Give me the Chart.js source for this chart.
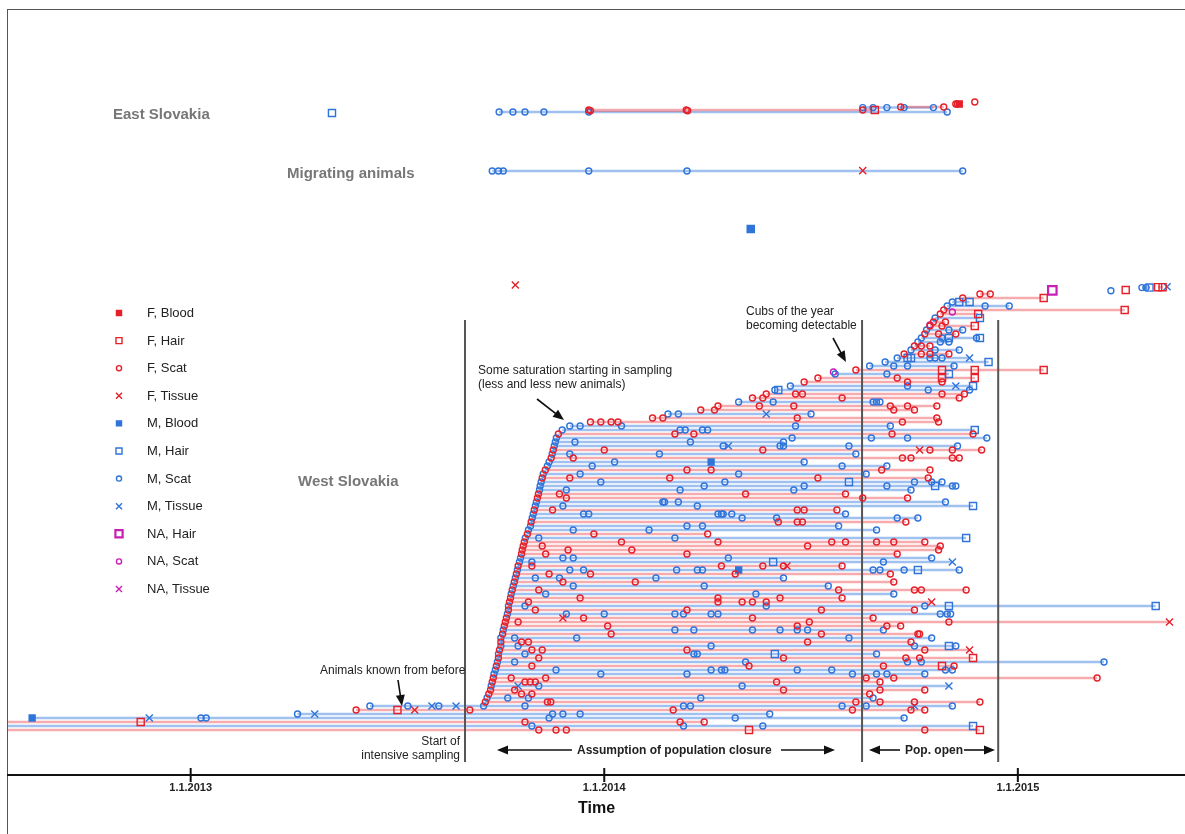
<!DOCTYPE html>
<html lang="en">
<head>
<meta charset="UTF-8">
<title>Sampling timeline of individual animals</title>
<style>
  body { margin: 0; background: #fff; font-family: Arial, "Liberation Sans", sans-serif; overflow: hidden; }
  #wrap { position: relative; width: 1185px; height: 834px; }
  #frame { position: absolute; left: 7px; top: 9px; width: 1200px; height: 900px; border-left: 1px solid #555; border-top: 1px solid #555; }
  canvas { position: absolute; left: 0; top: 0; }
  .txt { position: absolute; white-space: nowrap; font-size: 12px; line-height: 14px; color: #222; }
  .bold { font-weight: bold; }
  .group { position: absolute; white-space: nowrap; font-size: 15px; font-weight: bold; color: #777; line-height: 18px; }
  .leg { position: absolute; left: 147px; white-space: nowrap; font-size: 13px; line-height: 16px; color: #222; }
</style>
</head>
<body>
<div id="wrap">
  <div id="frame"></div>
  <canvas id="timeline" width="1185" height="834"></canvas>

  <div class="group" style="left:113px; top:105px;">East Slovakia</div>
  <div class="group" style="left:287px; top:164px;">Migrating animals</div>
  <div class="group" style="left:298px; top:472px;">West Slovakia</div>

  <div class="txt" style="left:478px; top:363px;">Some saturation starting in sampling<br>(less and less new animals)</div>
  <div class="txt" style="left:746px; top:304px;">Cubs of the year<br>becoming detectable</div>
  <div class="txt" style="left:320px; top:663px;">Animals known from before</div>
  <div class="txt" style="right:725px; top:734px; text-align:right;">Start of<br>intensive sampling</div>
  <div class="txt bold" style="left:577px; top:743px;">Assumption of population closure</div>
  <div class="txt bold" style="left:905px; top:743px;">Pop. open</div>
  <div id="legend"></div>
</div>

<script src="https://cdn.jsdelivr.net/npm/chart.js"></script>
<script>
// time axis: months since 1.1.2013
const tickValues = [0, 12, 24];
const tickLabels = ['1.1.2013', '1.1.2014', '1.1.2015'];
const phaseLines = [7.96, 19.48, 23.43];   // start of intensive sampling, closure end, open end
const phaseSpan = [-8, 102.5];

// one string per animal: sex, then detection months; suffix b=blood, h=hair, x=tissue, none=scat
// West Slovakia, row index = position from the bottom
const westRows = [
  'F -6 10.1 10.6 10.9 16.2h 21.3 22.9h',
  'M -6 9.9 14.3 16.6 22.7h',
  'F -6 -1.45h 9.7 14.2 14.9',
  'M -4.6b -1.2x 0.3 0.45 10.4 15.8 20.7',
  'M 3.1 3.6x 10.5 10.8 11.3 16.8',
  'F 4.8 6.0h 6.5x 8.1 14.0 19.2 20.9 21.3',
  'M 5.2 6.3 7.0x 7.2 7.7x 8.5 9.7 14.3 14.5 18.9 19.6 21.0x 22.1',
  'F 8.55 10.35 10.45 19.3 20.0 21.0 22.9',
  'M 8.6 9.2 9.8 14.8 19.8',
  'F 8.65 9.6 9.9 19.7',
  'F 8.7 9.4 17.2 20.0 21.3',
  'M 8.72 9.5x 10.1 16.0 22.0x',
  'F 8.75 9.7 9.85 10.0 17.0 20.0',
  'F 8.78 9.3 10.3 19.6 20.4 26.3',
  'M 8.8 11.9 14.4 19.2 19.9 20.2 21.3',
  'M 8.84 10.6 15.1 15.4 15.5 17.6 18.6 21.9 22.1',
  'F 8.87 9.9 16.2 20.1 21.8h 22.15',
  'M 8.9 9.4 16.1 20.8 21.2 26.5',
  'F 8.93 10.1 17.2 20.75 21.15 22.7h',
  'M 8.93 9.7 14.6 14.7 16.95h 19.9',
  'F 8.96 9.9 10.2 14.4 21.3 22.6x',
  'M 9.0 9.5 15.1 21.0 22.0h 22.2',
  'F 9.0 9.6 9.8 17.9 20.9',
  'M 9.0 9.4 11.2 19.1 21.5',
  'F 9.05 12.2 18.3 21.1 21.15',
  'M 9.07 14.05 14.6 16.3 17.1 17.6 17.9 20.1',
  'F 9.1 12.1 17.6 20.2 20.6',
  'F 9.13 9.5 17.95 22.0 28.4x',
  'F 9.16 10.8x 11.4 16.3 19.8',
  'M 9.19 10.9 12.0 14.05 14.3 15.1 15.3 21.75 21.95 22.05',
  'F 9.22 10.0 14.4 18.3 21.0',
  'M 9.22 9.7 16.7 21.3 22.0h 28.0h',
  'F 9.25 9.8 15.3 16.0 16.3 16.7 21.5x',
  'F 9.28 11.3 15.3 17.1 18.9',
  'M 9.3 10.3 16.4 20.4',
  'F 9.33 10.1 18.8 21.0 21.2 22.5',
  'M 9.36 11.1 14.9 18.5',
  'F 9.39 10.8 12.9 20.4',
  'M 9.42 10.0 10.7 13.5 17.2',
  'F 9.45 10.4 11.6 15.8 20.3',
  'M 9.48 11.0 11.4 14.1 14.7 14.85 15.9b 19.8 20.0 20.7 21.1h 22.3',
  'F 9.5 9.9 15.4 16.6 17.2 17.3x 18.9',
  'M 9.54 9.9 16.9h 20.1 22.1x',
  'M 9.57 10.8 11.1 15.6 21.5',
  'F 9.6 10.3 14.4 20.5',
  'F 9.62 10.95 12.8 21.7',
  'F 9.65 10.2 17.9 21.75',
  'F 9.68 12.5 15.3 18.6 19.0 19.9 20.4 21.3',
  'M 9.71 10.1 14.05 22.5h',
  'F 9.77 11.7 15.0',
  'M 9.8 11.1 13.3 19.9',
  'M 9.86 14.4 14.85 18.8',
  'F 9.88 17.05 17.6 17.75 20.75',
  'M 9.91 16.0 17.0 20.5 21.1',
  'M 9.94 11.4 11.55 15.3 15.4 15.45 15.7 19.0',
  'F 9.97 10.5 17.6 17.8 18.75',
  'M 10.0 10.8 14.7 22.7h',
  'M 10.03 13.7 13.75 14.15 21.9',
  'F 10.06 10.9 19.5 20.8',
  'F 10.09 10.7 16.1 19.0',
  'M 10.12 10.9 14.2 17.5 20.9',
  'M 10.14 14.9 17.8 20.2 21.6h 22.1 22.2',
  'M 10.17 11.9 15.5 19.1h 21.0 21.5 21.8',
  'F 10.2 11.0 13.9 18.2 21.4',
  'M 10.23 11.3 15.9 19.6',
  'F 10.29 14.4 15.1 20.05 21.45',
  'M 10.35 11.65 18.9 20.2',
  'M 10.4 12.3 15.1b 17.8',
  'F 10.46 11.1 20.65 20.9 22.1 22.3',
  'M 10.49 11.0 13.6 19.3',
  'F 10.52 12.0 16.6 21.15x 21.45 22.1 22.95',
  'M 10.55 15.45 15.6x 17.1 17.2 19.1 22.25',
  'M 10.58 11.15 14.5 17.2',
  'M 10.61 17.45 19.75 20.8 23.1',
  'F 10.67 14.05 14.6 20.35 22.7',
  'M 10.78 14.2 14.35 14.85 15.0 22.75h',
  'M 11.0 11.3 12.5 17.55 20.3',
  'F 11.6 11.9 12.2 12.4 20.65 21.7',
  'F 13.4 13.7 17.6 21.65',
  'M 13.85 14.15 16.7x 18.0',
  'F 14.8 15.2 20.4 21.0',
  'F 15.3 16.5 17.5 20.3 20.8 21.65',
  'M 15.9 16.9 19.8 19.9 20.0',
  'F 16.3 16.6 18.9 22.3',
  'F 16.7 17.55 17.75 21.8 22.45',
  'M 16.95 17.05h 21.4 22.6',
  'M 17.4 20.8 22.2x 22.7h',
  'F 17.8 20.8 21.8',
  'F 18.2 20.5 21.8h 22.75h',
  'M 18.7 20.2 22.0h',
  'F 19.3 21.8h 22.75h 24.75h',
  'M 19.7 20.4 20.8 22.15',
  'M 20.15 23.15h',
  'M 20.5 20.8h 20.9h 21.45 21.6 21.8 22.6x',
  'F 20.7 21.2 21.45 22.0',
  'M 20.9 21.6 22.3',
  'F 21.0 21.2 21.45',
  'M 21.1 21.75 22.0',
  'M 21.2 21.8 22.0h 22.8 22.9h',
  'F 21.3 21.7 22.2',
  'M 21.35 22.0 22.4',
  'F 21.45 21.8 22.75h',
  'F 21.55 21.9',
  'M 21.6 22.9h',
  'F 21.75 22.85h',
  'F 21.85 27.1h',
  'M 21.95 23.05 23.75',
  'M 22.1 22.3h 22.6h',
  'F 22.4 24.75h',
  'F 22.9 23.2'
];

// animals seen once in the west, and unsexed samples
const singleRows = ['F 9.42x', 'M 16.25h 16.25b', 'N 25.0h', 'M 26.7', 'F 27.13h',
                    'M 27.6 27.72 27.82h', 'F 28.07h 28.2h', 'M 28.33x', 'N 18.65', 'N 21.45', 'N 22.1'];
const singlePos = [111.25, 125.25, 109.9, 109.8, 110.0, 110.6, 110.7, 110.8, 89.5, 101.25, 104.5];

const migratingRows = ['M 8.75 8.93 9.07 11.55 14.4 22.4', 'F 19.5x'];
const migratingPos = [139.75, 139.85];

const eastRows = ['M 4.1h', 'M 8.95 9.35 9.7 10.25 11.55 21.95', 'F 11.55 14.38 19.5 19.85h', 'F 11.6 14.42',
                  'M 19.5 19.8 20.2 20.7 21.55', 'F 20.6 21.85', 'F 22.2 22.25 22.3b', 'F 22.75'];
const eastPos = [154.25, 154.5, 155.0, 154.8, 155.6, 155.75, 156.5, 157.0];

const categories = ['F, Blood', 'F, Hair', 'F, Scat', 'F, Tissue', 'M, Blood', 'M, Hair', 'M, Scat',
                    'M, Tissue', 'NA, Hair', 'NA, Scat', 'NA, Tissue'];

const sexColor = { F: '#e5202a', M: '#2f74d9', NA: '#c81fb4' };
const lineColor = { F: 'rgba(238, 88, 96, 0.5)', M: 'rgba(66, 132, 226, 0.5)', NA: 'rgba(200, 31, 180, 0.5)' };
const kindStyle = {
  Blood:  { pointStyle: 'rect', radius: 4.2, filled: true },
  Hair:   { pointStyle: 'rect', radius: 5, filled: false },
  Scat:   { pointStyle: 'circle', radius: 3, filled: false },
  Tissue: { pointStyle: 'crossRot', radius: 5, filled: false }
};
const kindCode = { b: 'Blood', h: 'Hair', x: 'Tissue', '': 'Scat' };
const sexCode = { F: 'F', M: 'M', N: 'NA' };

function parseRow(str, y) {
  const parts = str.trim().split(/\s+/);
  const sex = sexCode[parts[0]];
  const det = parts.slice(1).map(p => {
    const m = p.match(/^(-?[\d.]+)([bhx]?)$/);
    return { x: parseFloat(m[1]), y: y, kind: kindCode[m[2]] };
  });
  return { sex, det, y };
}

const animals = [];
westRows.forEach((s, i) => animals.push(parseRow(s, i)));
singleRows.forEach((s, i) => animals.push(parseRow(s, singlePos[i])));
migratingRows.forEach((s, i) => animals.push(parseRow(s, migratingPos[i])));
eastRows.forEach((s, i) => animals.push(parseRow(s, eastPos[i])));

// span lines, one dataset per sex, rows separated by gaps
const spans = { F: [], M: [], NA: [] };
animals.forEach(a => {
  if (a.det.length < 2) return;
  const xs = a.det.map(d => d.x);
  const lo = Math.min(...xs), hi = Math.max(...xs);
  spans[a.sex].push({ x: lo, y: a.y }, { x: hi, y: a.y }, { x: hi, y: null });
});

const phaseData = [];
phaseLines.forEach(v => phaseData.push({ x: v, y: phaseSpan[0] }, { x: v, y: phaseSpan[1] }, { x: v, y: null }));

const datasets = [];
categories.forEach(cat => {
  const [sex, kind] = cat.split(', ');
  const st = kindStyle[kind];
  const pts = [];
  animals.forEach(a => {
    if (a.sex !== sex) return;
    a.det.forEach(d => { if (d.kind === kind) pts.push({ x: d.x, y: d.y }); });
  });
  const big = sex === 'NA' && kind === 'Hair';
  datasets.push({
    type: 'scatter',
    label: cat,
    data: pts,
    order: 0,
    clip: 0,
    pointStyle: st.pointStyle,
    pointRadius: big ? 6 : st.radius,
    pointBorderWidth: big ? 2.2 : 1.4,
    pointBorderColor: sexColor[sex],
    pointBackgroundColor: st.filled ? sexColor[sex] : 'rgba(0,0,0,0)'
  });
});
datasets.push({
  type: 'line', label: 'phases', data: phaseData, order: 1,
  borderColor: '#555', borderWidth: 2, pointRadius: 0, spanGaps: false
});
['F', 'M', 'NA'].forEach(sex => {
  datasets.push({
    type: 'line', label: sex + ' span', data: spans[sex], order: 2,
    borderColor: lineColor[sex], borderWidth: 2.5, pointRadius: 0, spanGaps: false, tension: 0
  });
});

// arrows of the annotations: [x1, y1, x2, y2], head at the second point
const arrows = [
  [537, 399, 564, 420], [833, 338, 846, 362], [398, 680, 402, 706],
  [572, 750, 497, 750], [781, 750, 835, 750], [900, 750, 869, 750], [964, 750, 995, 750]
];

function drawArrow(ctx, x1, y1, x2, y2) {
  const ang = Math.atan2(y2 - y1, x2 - x1);
  const hl = 11, hw = 4.5;
  ctx.strokeStyle = '#111'; ctx.fillStyle = '#111'; ctx.lineWidth = 1.6;
  ctx.beginPath();
  ctx.moveTo(x1, y1);
  ctx.lineTo(x2 - Math.cos(ang) * hl * 0.8, y2 - Math.sin(ang) * hl * 0.8);
  ctx.stroke();
  ctx.beginPath();
  ctx.moveTo(x2, y2);
  ctx.lineTo(x2 - Math.cos(ang) * hl + Math.sin(ang) * hw, y2 - Math.sin(ang) * hl - Math.cos(ang) * hw);
  ctx.lineTo(x2 - Math.cos(ang) * hl - Math.sin(ang) * hw, y2 - Math.sin(ang) * hl + Math.cos(ang) * hw);
  ctx.closePath();
  ctx.fill();
}

function drawMarker(ctx, ds, x, y) {
  const r = ds.pointRadius * 0.85;
  ctx.lineWidth = ds.pointBorderWidth;
  ctx.strokeStyle = ds.pointBorderColor;
  ctx.fillStyle = ds.pointBackgroundColor;
  ctx.beginPath();
  if (ds.pointStyle === 'rect') {
    const h = r * Math.SQRT1_2;
    ctx.rect(x - h, y - h, 2 * h, 2 * h);
    ctx.fill(); ctx.stroke();
  } else if (ds.pointStyle === 'circle') {
    ctx.arc(x, y, r, 0, Math.PI * 2);
    ctx.stroke();
  } else {
    const h = r * Math.SQRT1_2;
    ctx.moveTo(x - h, y - h); ctx.lineTo(x + h, y + h);
    ctx.moveTo(x + h, y - h); ctx.lineTo(x - h, y + h);
    ctx.stroke();
  }
}

const legendTop = 313, legendStep = 27.6, legendX = 119;
const legendDiv = document.getElementById('legend');
categories.forEach((c, i) => {
  const d = document.createElement('div');
  d.className = 'leg';
  d.style.top = (legendTop + i * legendStep - 8) + 'px';
  d.textContent = c;
  legendDiv.appendChild(d);
});

const extras = {
  id: 'extras',
  afterDraw(chart) {
    const ctx = chart.ctx;
    const xs = chart.scales.x;
    ctx.save();
    ctx.strokeStyle = '#111';
    ctx.lineWidth = 2;
    tickValues.forEach(v => {
      const px = xs.getPixelForValue(v);
      ctx.beginPath();
      ctx.moveTo(px, xs.top - 7);
      ctx.lineTo(px, xs.top + 7);
      ctx.stroke();
    });
    arrows.forEach(a => drawArrow(ctx, a[0], a[1], a[2], a[3]));
    chart.data.datasets.slice(0, categories.length).forEach((ds, i) => {
      drawMarker(ctx, ds, legendX, legendTop + i * legendStep);
    });
    ctx.restore();
  }
};

new Chart(document.getElementById('timeline').getContext('2d'), {
  data: { datasets },
  options: {
    responsive: false,
    animation: false,
    devicePixelRatio: 1,
    events: [],
    layout: { autoPadding: false, padding: { left: 8, top: 10, right: 0, bottom: 0 } },
    plugins: { legend: { display: false }, tooltip: { enabled: false } },
    scales: {
      x: {
        type: 'linear',
        min: -5.3,
        max: 28.85,
        afterBuildTicks: s => { s.ticks = tickValues.map(v => ({ value: v })); },
        afterFit: s => { s.height = 59; s.paddingLeft = 0; s.paddingRight = 0; },
        grid: { display: false, drawTicks: false },
        border: { display: true, color: '#111', width: 2 },
        ticks: {
          autoSkip: false, maxRotation: 0, padding: 6, color: '#222',
          font: { family: 'Arial, "Liberation Sans", sans-serif', size: 11, weight: 'bold' },
          callback: v => tickLabels[tickValues.indexOf(v)]
        },
        title: {
          display: true, text: 'Time', color: '#111',
          font: { family: 'Arial, "Liberation Sans", sans-serif', size: 16, weight: 'bold' },
          padding: { top: 0, bottom: 16 }
        }
      },
      y: { type: 'linear', display: false, min: -11.25, max: 180 }
    }
  },
  plugins: [extras]
});
</script>
</body>
</html>
